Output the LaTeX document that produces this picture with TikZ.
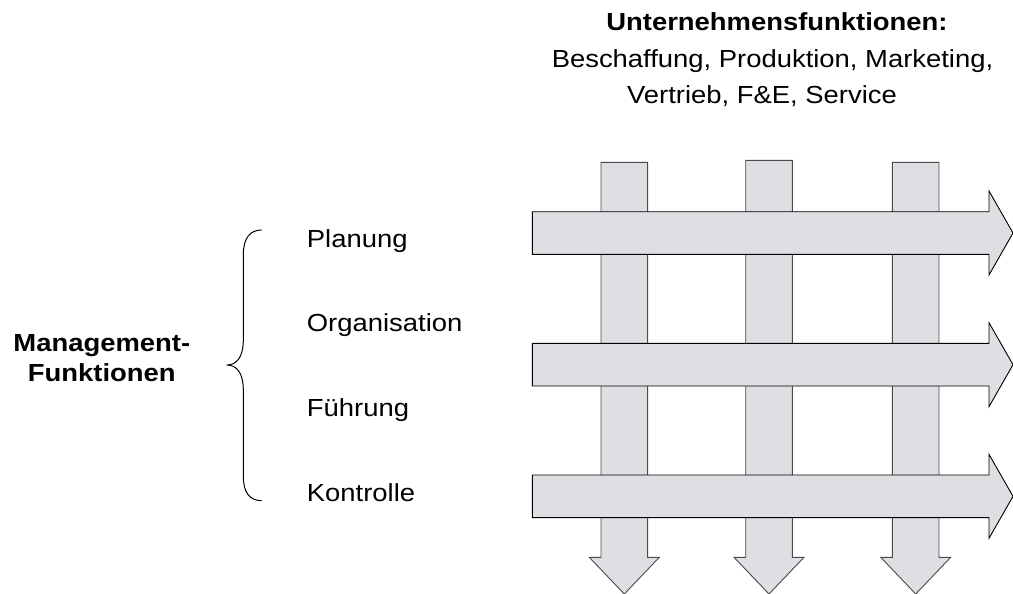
\documentclass[tikz,border=0pt]{standalone}
\usepackage{fontspec}
\setmainfont{Liberation Sans}[FakeStretch=1.11]
\definecolor{arrowfill}{HTML}{DEDFE3}
\definecolor{vedge}{HTML}{4A4A4A}
\begin{document}
\begin{tikzpicture}[x=1pt,y=-1pt,
  txt/.style={inner sep=0pt,anchor=base,font=\fontsize{24.7}{30}\selectfont},
  ltxt/.style={txt,anchor=base west},
  btxt/.style={txt,font=\fontsize{24.7}{30}\selectfont\bfseries},
  varrow/.style={fill=arrowfill,draw=vedge,line width=0.9pt,line join=miter},
  harrow/.style={fill=arrowfill,draw=black,line width=0.9pt,line join=miter},
  bracestyle/.style={draw=black,line width=1pt}]
\useasboundingbox (0,0) rectangle (1013,594);
% vertical arrows
\foreach \cx/\top in {624.3/162.3, 769/160.3, 915.7/162.3}{
  \draw[varrow] (\cx-23.3,\top) -- (\cx+23.3,\top) -- (\cx+23.3,557.3) -- (\cx+35,557.3)
    -- (\cx,594) -- (\cx-35,557.3) -- (\cx-23.3,557.3) -- cycle;
}
% horizontal arrows
\foreach \cy in {233, 364.7, 496.3}{
  \draw[harrow] (532.3,\cy-21.3) -- (989,\cy-21.3) -- (989,\cy-42) -- (1013,\cy)
    -- (989,\cy+42) -- (989,\cy+21.3) -- (532.3,\cy+21.3) -- cycle;
}
% top text
\node[btxt] (uf) at (777,31) {Unternehmensfunktionen:};
\node[txt] (uf2) at (772.5,67.3) {Beschaffung, Produktion, Marketing,};
\node[txt] (uf3) at (762,103.3) {Vertrieb, F\&E, Service};
% left text
\node[btxt] (mf1) at (101.8,351.7) {Management-};
\node[btxt] (mf2) at (101.8,381.7) {Funktionen};
\node[ltxt] (pl) at (306.7,247.7) {Planung};
\node[ltxt] (org) at (306.7,331.8) {Organisation};
\node[ltxt] (fu) at (306.7,416) {Führung};
\node[ltxt] (ko) at (306.7,501) {Kontrolle};
% brace
\coordinate (btop) at (261.7,230);
\coordinate (btip) at (226.7,365);
\coordinate (bbot) at (261.7,500.7);
\draw[bracestyle] (btop) .. controls (250,230) and (243.3,238) .. (243.3,255) -- (243.3,340)
  .. controls (243.3,358) and (236,365) .. (btip)
  .. controls (236,365) and (243.3,372) .. (243.3,390) -- (243.3,476)
  .. controls (243.3,493) and (250,500.7) .. (bbot);
\end{tikzpicture}
\end{document}
